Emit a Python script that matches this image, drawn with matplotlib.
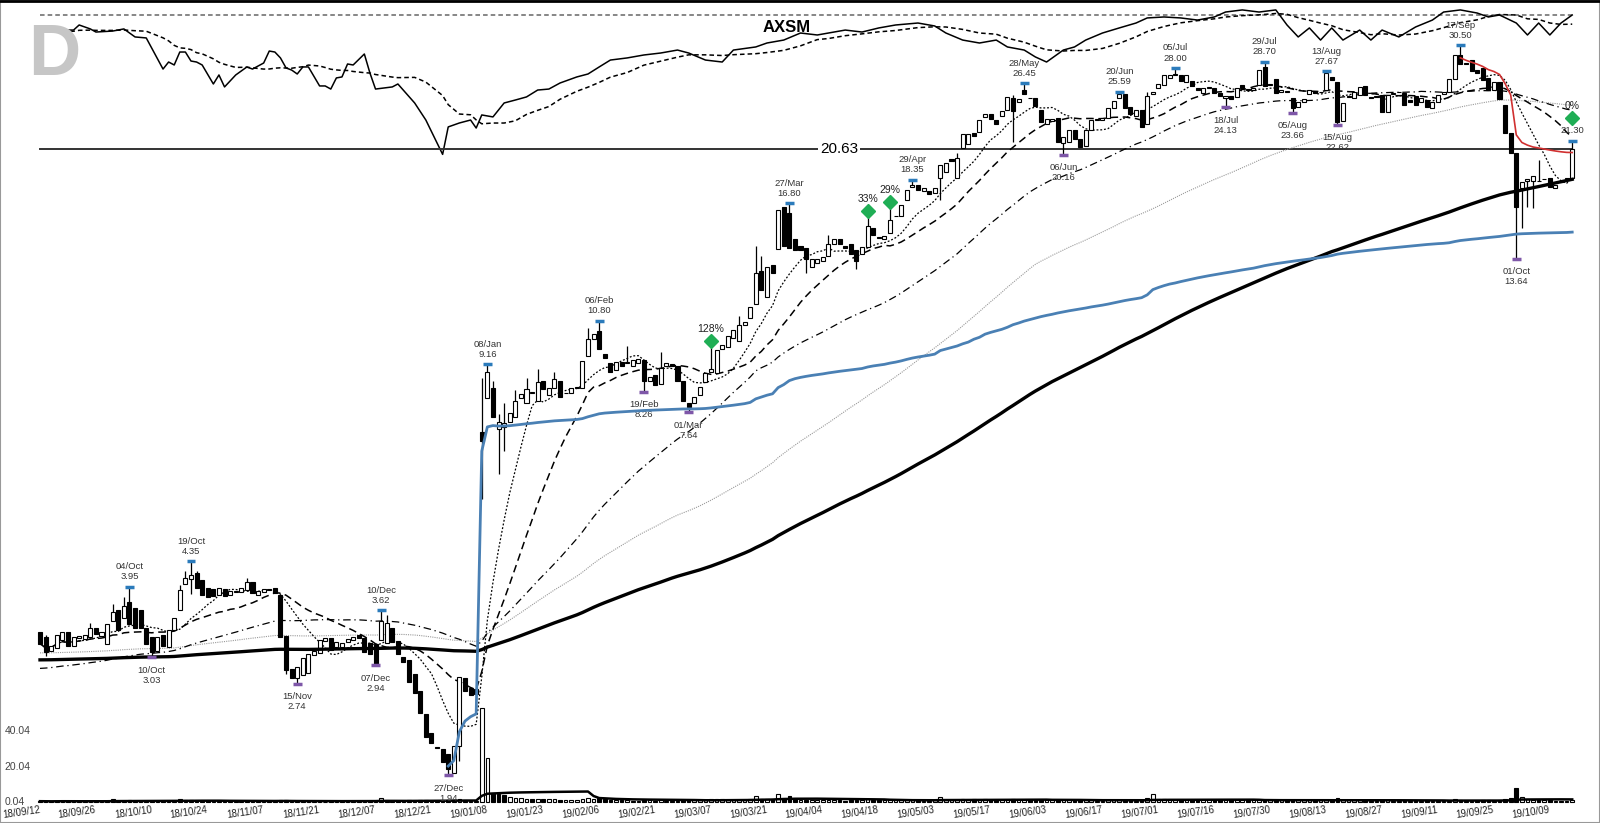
import numpy as np
import pandas as pd
import matplotlib
matplotlib.use("Agg")
import matplotlib.pyplot as plt
from matplotlib.transforms import blended_transform_factory as blend
from matplotlib.lines import Line2D

plt.rcParams['font.family'] = ['Liberation Sans', 'DejaVu Sans']

#******** data ********
ticker = "AXSM"
level = 20.63
holidays = ["2018-11-22", "2018-12-05", "2018-12-25", "2019-01-01", "2019-01-21",
            "2019-02-18", "2019-04-19", "2019-05-27", "2019-07-04", "2019-09-02"]

opn = [3.33, 3.27, 3.10, 3.14, 3.24, 3.33, 3.16, 3.26, 3.25, 3.27,
       3.38, 3.28, 3.19, 3.47, 3.62, 3.52, 3.73, 3.65, 3.62, 3.38,
       3.27, 3.10, 3.30, 3.15, 3.36, 3.62, 4.00, 4.07, 4.17, 4.05,
       3.94, 3.92, 3.84, 3.92, 3.84, 3.88, 3.88, 3.90, 4.02, 3.84,
       3.88, 3.92, 3.93, 3.83, 3.28, 2.90, 2.80, 2.83, 2.86, 3.06,
       3.08, 3.22, 3.26, 3.15, 3.15, 3.21, 3.23, 3.29, 3.26, 3.20,
       3.19, 3.24, 3.20, 3.38, 3.22, 3.03, 3.00, 2.85, 2.67, 2.45,
       2.28, 2.16, 2.14, 2.10, 1.96, 2.17, 2.80, 2.70, 2.69, 7.10,
       8.06, 8.37, 7.17, 7.22, 7.36, 7.50, 8.05, 7.92, 8.20, 7.96,
       8.58, 8.15, 8.37, 8.58, 8.20, 8.20, 8.37, 8.37, 9.43, 10.07,
       10.40, 9.50, 9.20, 8.95, 9.25, 9.20, 9.10, 9.20, 9.30, 8.58,
       8.78, 8.50, 9.10, 9.15, 9.08, 8.58, 7.91, 7.90, 8.15, 8.55,
       8.90, 8.86, 9.70, 9.77, 10.10, 10.00, 10.60, 10.90, 11.48, 13.00,
       11.80, 13.30, 14.13, 16.60, 16.20, 14.70, 14.30, 14.20, 13.20, 13.40,
       13.50, 13.80, 14.40, 14.70, 14.30, 14.40, 14.10, 13.90, 14.25, 15.30,
       14.80, 14.70, 15.00, 16.00, 16.00, 17.00, 17.90, 18.00, 17.60, 17.60,
       17.50, 18.50, 18.90, 19.90, 18.50, 20.70, 21.00, 21.90, 22.00, 23.30,
       23.50, 23.00, 23.40, 23.90, 25.00, 24.60, 25.80, 25.00, 25.00, 23.90,
       22.70, 22.90, 23.20, 21.10, 21.20, 22.20, 21.40, 20.90, 22.20, 23.00,
       23.00, 23.20, 24.10, 25.00, 25.40, 24.20, 23.40, 23.90, 22.70, 25.40,
       26.00, 26.30, 27.00, 27.30, 27.30, 26.60, 26.70, 26.00, 25.50, 26.00,
       26.00, 25.50, 25.00, 25.20, 25.10, 26.30, 25.90, 25.80, 26.30, 28.10,
       26.30, 26.90, 25.60, 25.70, 25.00, 24.20, 24.60, 25.40, 25.70, 25.60,
       25.80, 27.10, 26.60, 22.90, 25.20, 25.00, 25.30, 26.20, 25.10, 25.10,
       25.30, 23.70, 25.40, 25.60, 25.50, 24.80, 25.20, 24.60, 24.80, 24.10,
       24.60, 25.40, 25.60, 26.90, 29.40, 28.50, 28.90, 27.80, 28.00, 27.00,
       25.80, 26.60, 24.40, 21.90, 20.30, 17.80, 18.30, 18.30, 18.30, 18.40,
       18.50, 17.80, 18.20, 18.40, 18.50]

close = [3.19, 3.09, 3.16, 3.30, 3.33, 3.16, 3.27, 3.28, 3.30, 3.38,
         3.31, 3.33, 3.44, 3.59, 3.36, 3.68, 3.44, 3.39, 3.38, 3.19,
         3.09, 3.27, 3.16, 3.36, 3.51, 3.90, 4.08, 4.13, 3.94, 3.83,
         3.80, 3.82, 3.94, 3.82, 3.89, 3.89, 3.94, 4.02, 3.86, 3.89,
         3.92, 3.91, 3.86, 3.27, 2.89, 2.80, 2.92, 3.02, 3.07, 3.10,
         3.23, 3.26, 3.12, 3.21, 3.20, 3.25, 3.27, 3.26, 3.09, 3.07,
         2.96, 3.48, 3.45, 3.21, 3.07, 2.98, 2.76, 2.65, 2.46, 2.24,
         2.19, 2.15, 2.04, 1.99, 2.17, 2.81, 2.67, 2.63, 2.64, 6.86,
         8.89, 7.50, 7.36, 7.33, 7.63, 7.96, 8.18, 8.33, 8.25, 8.55,
         8.33, 8.37, 8.65, 8.09, 8.22, 8.37, 8.40, 9.28, 10.08, 10.26,
         9.70, 9.38, 8.90, 9.25, 9.10, 9.25, 9.30, 9.35, 8.58, 8.73,
         8.46, 9.03, 9.20, 9.10, 8.58, 7.96, 7.78, 8.10, 8.40, 8.86,
         8.98, 9.66, 9.86, 10.18, 10.41, 10.60, 10.75, 11.35, 12.90, 12.10,
         13.20, 12.90, 16.40, 14.30, 14.20, 14.10, 14.10, 13.60, 13.60, 13.60,
         13.70, 14.40, 14.70, 14.40, 14.20, 13.90, 13.50, 14.25, 15.40, 14.90,
         14.75, 14.85, 15.80, 16.05, 16.70, 17.70, 18.00, 17.70, 17.80, 17.40,
         17.80, 19.40, 19.60, 19.70, 19.95, 21.80, 21.80, 21.70, 23.00, 23.50,
         23.10, 22.70, 23.80, 25.10, 23.80, 24.90, 25.40, 25.00, 24.30, 22.80,
         23.10, 23.10, 21.20, 21.60, 22.20, 21.40, 20.80, 22.20, 23.00, 23.10,
         23.20, 24.10, 24.70, 25.40, 24.10, 23.50, 23.90, 22.40, 25.20, 25.60,
         26.40, 27.30, 27.30, 27.40, 26.70, 27.30, 26.20, 25.80, 26.00, 26.10,
         25.50, 25.20, 25.20, 24.90, 26.00, 26.00, 25.80, 26.00, 27.80, 26.20,
         26.40, 25.50, 25.80, 25.60, 24.10, 24.60, 24.90, 25.80, 25.50, 25.60,
         27.50, 26.80, 22.80, 24.50, 25.10, 25.60, 26.10, 25.30, 25.00, 25.20,
         23.70, 25.30, 25.50, 25.60, 24.40, 24.60, 24.40, 25.00, 24.20, 24.60,
         25.30, 25.60, 26.90, 29.40, 28.40, 28.40, 27.70, 27.50, 26.80, 25.80,
         26.60, 24.90, 21.90, 20.30, 16.60, 18.20, 18.40, 18.60, 18.30, 18.40,
         17.90, 18.00, 18.30, 18.50, 20.60]

wick_hi = {1: 3.30, 9: 3.45, 13: 3.70, 15: 3.80, 16: 3.95, 25: 3.98, 26: 4.20, 27: 4.35,
           28: 4.20, 37: 4.08, 61: 3.62, 62: 3.55, 79: 8.70, 80: 9.16, 81: 8.60, 82: 7.60,
           83: 7.90, 85: 8.30, 87: 8.70, 89: 9.00, 92: 8.90, 98: 10.50, 100: 10.80,
           105: 9.80, 111: 9.60, 120: 9.80, 125: 11.00, 128: 14.30, 129: 13.80, 134: 16.80,
           141: 14.90, 148: 16.20, 152: 16.50, 156: 18.35, 164: 20.30, 174: 25.30,
           176: 26.45, 193: 25.59, 198: 25.60, 203: 28.00, 219: 28.70, 230: 27.67,
           254: 30.50, 268: 19.80, 274: 21.30}
wick_lo = {1: 3.05, 20: 3.03, 27: 3.85, 44: 2.85, 46: 2.74, 60: 2.94, 73: 1.94, 75: 2.05,
           79: 5.50, 82: 6.05, 83: 6.60, 108: 8.26, 116: 7.64, 137: 12.90, 146: 13.10,
           161: 17.00, 174: 21.20, 183: 20.16, 212: 24.13, 224: 23.66, 232: 22.62,
           264: 13.64, 265: 15.30, 266: 16.60, 267: 16.50}

# moving-average values at the first bar (history before the chart starts)
ma_seed = {50: 2.90, 100: 3.08, 200: 3.00}

volume = [0.5, 0.4, 0.4, 0.6, 0.5, 0.4, 0.4, 0.5, 0.4, 0.5,
          0.5, 0.4, 0.6, 1.5, 0.8, 0.7, 0.9, 0.6, 0.7, 0.8,
          0.7, 0.5, 0.5, 0.6, 0.8, 1.6, 1.0, 0.9, 0.8, 0.7,
          0.6, 0.5, 0.5, 0.4, 0.5, 0.4, 0.4, 0.5, 0.5, 0.4,
          0.4, 0.4, 0.5, 1.1, 1.0, 0.7, 0.8, 0.6, 0.5, 0.4,
          0.4, 0.3, 0.5, 0.4, 0.4, 0.5, 0.5, 0.4, 0.6, 0.5,
          0.8, 2.4, 1.2, 0.7, 0.6, 0.6, 0.9, 0.8, 0.9, 0.9,
          0.8, 0.4, 0.7, 0.9, 0.8, 1.5, 0.9, 0.7, 0.6, 53.0,
          25.0, 5.0, 4.5, 4.0, 3.0, 2.5, 2.2, 2.0, 1.8, 1.8,
          1.6, 1.8, 1.5, 1.4, 1.2, 1.3, 1.2, 2.0, 2.5, 2.0,
          2.2, 1.5, 1.2, 1.0, 0.9, 0.9, 0.8, 0.8, 1.2, 0.9,
          0.8, 0.9, 0.8, 0.7, 0.8, 1.2, 1.1, 0.9, 1.0, 1.2,
          1.6, 1.8, 1.5, 1.4, 1.3, 1.4, 1.2, 1.8, 3.5, 2.0,
          2.0, 1.5, 4.5, 2.5, 3.5, 2.0, 1.4, 1.3, 1.2, 1.0,
          1.0, 1.1, 0.9, 0.9, 0.8, 0.9, 1.0, 0.9, 1.6, 1.2,
          0.9, 1.0, 1.3, 1.0, 1.2, 1.3, 1.1, 0.9, 0.8, 0.8,
          1.0, 3.0, 1.2, 1.1, 1.3, 1.5, 1.2, 2.0, 1.3, 2.0,
          1.2, 1.1, 1.0, 1.3, 1.8, 1.1, 1.2, 1.0, 1.0, 1.2,
          1.0, 0.9, 1.2, 1.1, 1.0, 0.9, 0.9, 1.0, 1.0, 0.8,
          0.8, 0.9, 1.0, 0.9, 1.0, 0.9, 0.8, 1.0, 2.5, 4.5,
          1.8, 1.5, 1.3, 0.9, 1.2, 1.1, 1.2, 1.1, 1.1, 1.0,
          1.0, 1.0, 1.1, 1.0, 1.1, 1.0, 0.9, 1.0, 1.2, 1.3,
          1.1, 1.1, 1.0, 0.9, 1.1, 1.0, 0.9, 1.0, 0.9, 0.9,
          1.2, 1.1, 2.1, 1.3, 1.0, 0.9, 0.9, 0.9, 0.8, 0.8,
          1.0, 0.9, 0.8, 0.8, 0.9, 0.8, 0.9, 0.8, 0.9, 0.8,
          0.6, 0.5, 0.8, 1.5, 1.2, 0.8, 0.8, 0.7, 0.9, 0.9,
          0.8, 1.0, 1.8, 2.2, 8.0, 3.0, 1.5, 1.2, 1.0, 0.9,
          0.9, 0.8, 0.8, 0.7, 1.4]
vol_ticks = [0.04, 20.04, 40.04]

# relative strength line (read every few bars)
rs_idx = [0, 1, 3, 4, 5, 6, 7, 9, 10, 13, 15, 17, 19, 22, 23, 24, 25, 26, 27, 28, 29, 31, 32,
          33, 35, 37, 38, 40, 41, 42, 43, 44, 45, 46, 47, 48, 50, 51, 52, 53, 54, 55, 56, 58,
          59, 60, 63, 64, 67, 69, 72, 73, 75, 77, 78, 79, 81, 83, 85, 87, 89, 91, 93, 96, 98,
          100, 102, 105, 108, 111, 114, 116, 119, 122, 124, 128, 130, 133, 136, 139, 141, 144,
          147, 150, 153, 157, 160, 162, 165, 168, 171, 173, 176, 178, 180, 183, 185, 187, 190,
          193, 196, 198, 201, 204, 207, 210, 212, 215, 218, 221, 223, 225, 227, 229, 231, 233,
          236, 238, 240, 243, 246, 249, 251, 254, 257, 259, 261, 264, 266, 268, 270, 272, 274]
rs_val = [86.2, 88.3, 87.6, 86.2, 88.3, 88.3, 91.9, 89.1, 86.9, 87.6, 89.1, 83.4, 82.7, 60.6,
          65.6, 63.5, 72.7, 72.7, 66.3, 65.6, 63.5, 50.0, 56.4, 47.9, 56.4, 62.1, 60.6, 64.9,
          73.4, 72.7, 68.5, 61.4, 59.9, 57.1, 62.1, 62.1, 48.6, 48.6, 46.4, 54.3, 55.0, 64.2,
          63.5, 71.3, 57.8, 46.4, 47.9, 50.0, 36.5, 24.4, 0.0, 19.5, 22.3, 24.4, 18.7, 28.0,
          26.6, 36.5, 38.6, 40.8, 45.7, 46.4, 50.7, 55.0, 57.1, 62.1, 67.0, 68.5, 70.6, 72.0,
          74.1, 72.0, 67.0, 65.6, 74.1, 76.3, 79.1, 81.2, 86.2, 84.8, 86.2, 88.3, 86.9, 89.8,
          91.9, 93.3, 91.2, 86.2, 81.2, 79.1, 81.2, 76.3, 74.1, 69.2, 65.6, 74.1, 76.3, 81.2,
          86.2, 89.8, 93.3, 96.9, 97.6, 96.9, 95.4, 97.6, 101.1, 102.6, 101.1, 102.6, 91.9,
          83.4, 89.8, 81.2, 89.8, 81.2, 88.3, 81.2, 88.3, 83.4, 90.5, 95.4, 101.1, 102.6,
          100.4, 97.6, 99.0, 93.3, 84.8, 93.3, 84.8, 93.3, 99.0]
rs_ref = 99

hi_marks = [16, 27, 61, 80, 100, 134, 156, 176, 193, 203, 219, 230, 254]
lo_marks = [20, 46, 60, 73, 108, 116, 183, 212, 224, 232, 264]
sig_idx = [120, 148, 152, 274]
sig_txt = ["128%", "33%", "29%", "0%"]
sig_lvl = [10.0, 16.3, 16.9, 23.2]

#******** calc ********
n = len(close)
dates = pd.bdate_range("2018-09-12", periods=n, freq="C", holidays=holidays)
x = np.arange(n)
o = np.array(opn)
c = np.array(close)
h = np.maximum(o, c)
l = np.minimum(o, c)
for k, v in wick_hi.items():
    h[k] = max(v, h[k])
for k, v in wick_lo.items():
    l[k] = min(v, l[k])
vol = np.array(volume)


def sma(w):
    if w in ma_seed:
        s = pd.Series([ma_seed[w]] * (w - 1) + list(c))
        return s.rolling(w).mean().values[w - 1:]
    return pd.Series(c).rolling(w, min_periods=1).mean().values


ma = {w: sma(w) for w in (10, 20, 50, 100, 200)}
tp = (h + l + c) / 3


def avwap(start):
    pv = np.cumsum(tp[start:] * vol[start:])
    vv = np.cumsum(vol[start:])
    return x[start:], pv / vv


rs_ma = [np.mean([v for k, v in zip(rs_idx, rs_val) if j - 15 < k <= j]) for j in rs_idx]

#******** plot ********
fig = plt.figure(figsize=(16, 8.23), dpi=100)
axv = fig.add_axes([0, 0, 1, 1])
axr = fig.add_axes([0, 0, 1, 1])
ax = fig.add_axes([0, 0, 1, 1])
for a in (axv, axr, ax):
    a.set_xlim(-7.153, 278.97)
    a.axis("off")
ax.set_yscale("log")
ax.set_ylim(1.6214, 36.199)
axv.set_ylim(-11.82, 453.15)
axr.set_ylim(-474.9, 109.65)

# volume
vup = np.r_[True, c[1:] >= c[:-1]]
axv.bar(x, vol, width=0.65, color=np.where(vup, "white", "black"), edgecolor="black", lw=0.8)
axv.plot(x, pd.Series(vol).rolling(20, min_periods=1).mean(), color="black", lw=1.8)
vt = blend(axv.transAxes, axv.transData)
for v in vol_ticks:
    axv.text(0.003, v, f"{v:.2f}", transform=vt, fontsize=7.5, color="#444", va="center")

# relative strength panel
axr.plot([x[0], x[-1]], [rs_ref, rs_ref], color="#666", ls=(0, (3, 2)), lw=1.1)
axr.plot(rs_idx, rs_val, color="black", lw=1.1)
axr.plot(rs_idx, rs_ma, color="black", ls=(0, (3, 2)), lw=1.1)

# level line
ax.plot([x[0], x[-1]], [level, level], color="#333", lw=1.4, zorder=1)
ax.text(839 / 1600, level, f"{level:.2f}", transform=blend(ax.transAxes, ax.transData),
        ha="center", va="center", fontsize=11,
        bbox=dict(facecolor="white", edgecolor="none", pad=1.5), zorder=6)

# moving averages
ax.plot(x, ma[100], color="#9a9a9a", ls=(0, (1, 1)), lw=0.8, zorder=2)
ax.plot(x, ma[10], color="black", ls=(0, (1.5, 1.5)), lw=0.9, zorder=2)
ax.plot(x, ma[20], color="black", ls=(0, (5, 3)), lw=1.1, zorder=2)
ax.plot(x, ma[50], color="black", ls=(0, (6, 3, 1, 3)), lw=0.9, zorder=2)

# candles
up = c >= o
ax.vlines(x, l, h, color="black", lw=0.9, zorder=3)
ax.bar(x, np.abs(c - o), bottom=np.minimum(o, c), width=0.72,
       color=np.where(up, "white", "black"), edgecolor="black", lw=0.8, zorder=3)

ax.plot(x, ma[200], color="black", lw=2.4, zorder=4)
bx, by = avwap(73)
ax.plot(bx, by, color="#4a80b4", lw=2.0, zorder=4)
rx, ry = avwap(254)
ax.plot(rx, ry, color="#d03030", lw=1.2, zorder=4)

# swing highs / lows
for i in hi_marks:
    ax.plot([i - 0.8, i + 0.8], [h[i], h[i]], color="#2b7bbb", lw=2.5, solid_capstyle="butt", zorder=5)
    ax.annotate(f"{dates[i]:%d/%b}\n{h[i]:.2f}", (i, h[i]), xytext=(0, 4), textcoords="offset points",
                ha="center", va="bottom", fontsize=6.8, color="#333", linespacing=1.15)
for i in lo_marks:
    ax.plot([i - 0.8, i + 0.8], [l[i], l[i]], color="#7e57a8", lw=2.5, solid_capstyle="butt", zorder=5)
    ax.annotate(f"{dates[i]:%d/%b}\n{l[i]:.2f}", (i, l[i]), xytext=(0, -6), textcoords="offset points",
                ha="center", va="top", fontsize=6.8, color="#333", linespacing=1.15)
last = n - 1
ax.plot([last - 0.8, last + 0.8], [h[last], h[last]], color="#2b7bbb", lw=2.5, solid_capstyle="butt", zorder=5)
ax.annotate(f"{h[last]:.2f}", (last, h[last]), xytext=(0, 4), textcoords="offset points",
            ha="center", va="bottom", fontsize=6.8, color="#333")

# signals
for i, t, p in zip(sig_idx, sig_txt, sig_lvl):
    ax.plot(i, p, marker="D", ms=7, color="#1fae55", zorder=6)
    ax.annotate(t, (i, p), xytext=(0, 5), textcoords="offset points",
                ha="center", va="bottom", fontsize=7.5, color="#222")

# date labels
tb = blend(ax.transData, ax.transAxes)
for i in range(0, n, 10):
    ax.text(i, 0.016, dates[i].strftime("%y/%m/%d"), transform=tb, ha="right", va="center",
            rotation=8, rotation_mode="anchor", fontsize=7, color="#222")

fig.text(787 / 1600, 1 - 28 / 823, ticker, ha="center", va="center", fontsize=12, weight="bold")
fig.text(28 / 1600, 1 - 75 / 823, "D", ha="left", va="baseline", fontsize=52, weight="bold", color="#c6c6c6")

fig.add_artist(plt.Rectangle((0, 0), 1, 1, transform=fig.transFigure, fill=False, edgecolor="#999", lw=1.5))
fig.add_artist(Line2D([0, 1], [0.999, 0.999], transform=fig.transFigure, color="black", lw=2))

fig.savefig("out.png", dpi=100)
